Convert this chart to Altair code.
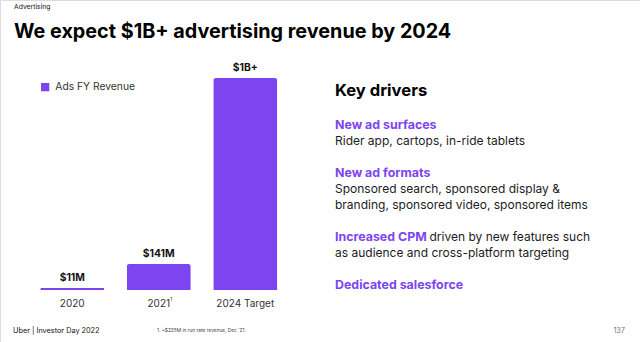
import altair as alt
import pandas as pd

# ---------------- data ----------------
categories = ["2020", "2021", "2024 Target"]
revenue = [11, 141, 1150]          # $M (2024 bar height, labelled "$1B+")
value_labels = ["$11M", "$141M", "$1B+"]
series_name = "Ads FY Revenue"

section_label = "Advertising"
title_text = "We expect $1B+ advertising revenue by 2024"
drivers_heading = "Key drivers"
driver_heads = ["New ad surfaces", "New ad formats", "Increased CPM", "Dedicated salesforce"]
driver_bodies = [
    ["Rider app, cartops, in-ride tablets"],
    ["Sponsored search, sponsored display &", "branding, sponsored video, sponsored items"],
    ["driven by new features such", "as audience and cross-platform targeting"],
    [],
]
footer_left = "Uber  |  Investor Day 2022"
footnote = "1. ~$225M in run rate revenue, Dec '21."
page_number = "137"

FONT = "Inter"
PURPLE = "#7C45F0"
DARK = "#1c1c1c"

df = pd.DataFrame({
    "year": categories,
    "revenue": revenue,
    "label": value_labels,
    "series": [series_name] * len(categories),
})
dummy = pd.DataFrame({"d": [0]})

base = alt.Chart(df)
xenc = alt.X("year:N", sort=categories,
             scale=alt.Scale(range=[29, 288.5], paddingInner=0.26, paddingOuter=0.13),
             axis=None)
yenc = alt.Y("revenue:Q", scale=alt.Scale(domain=[0, 1150], range=[290, 78], nice=False),
             axis=None)

bars = base.mark_bar(cornerRadiusTopLeft=2.5, cornerRadiusTopRight=2.5).encode(
    x=xenc, y=yenc,
    color=alt.Color("series:N", scale=alt.Scale(range=[PURPLE]),
                    legend=alt.Legend(orient="none", legendX=40, legendY=82, title=None,
                                      symbolType="square", symbolSize=68,
                                      symbolStrokeWidth=0, labelFontSize=10.3,
                                      labelColor="#333", labelFont=FONT, padding=0,
                                      labelOffset=5)),
)

vlabels = base.mark_text(fontWeight="bold", fontSize=10.3, dy=-7, baseline="alphabetic",
                         color="#111", font=FONT).encode(x=xenc, y=yenc, text="label:N")

xlabels = base.mark_text(fontSize=10, baseline="alphabetic", color="#333", font=FONT).encode(
    x=xenc, y=alt.value(307), text="year:N")

sup = base.transform_filter(alt.datum.year == "2021").mark_text(
    text="1", fontSize=5, baseline="alphabetic", color="#333", dx=12.5, font=FONT
).encode(x=xenc, y=alt.value(301))


def txt(s, x, y, size, weight="normal", color=DARK, align="left"):
    return alt.Chart(dummy).mark_text(
        text=s, align=align, baseline="alphabetic", fontSize=size,
        fontWeight=weight, color=color, font=FONT
    ).encode(x=alt.value(x), y=alt.value(y))


layers = [bars, vlabels, xlabels, sup]

layers.append(txt(section_label, 14, 9, 6.8, color="#111"))
layers.append(txt(title_text, 14, 38, 19.8, weight="bold", color="#000"))

layers.append(txt(drivers_heading, 335, 96, 16.6, weight="bold", color="#000"))

head_y = [128.5, 177, 241, 289]
for i, h in enumerate(driver_heads):
    layers.append(txt(h, 335, head_y[i], 12.4, weight="bold", color=PURPLE))
body_pos = [
    [(335, 144.5)],
    [(335, 193), (335, 209)],
    [(429.5, 241), (335, 257)],
    [],
]
for lines, pos in zip(driver_bodies, body_pos):
    for s, (x, y) in zip(lines, pos):
        layers.append(txt(s, x, y, 12))

layers.append(txt(footer_left, 13, 333, 7.3, color="#111"))
layers.append(txt(footnote, 157, 332, 4.8, color="#444"))
layers.append(txt(page_number, 625, 333, 7.3, color="#777", align="right"))

chart = alt.layer(*layers).properties(
    width=640, height=342, autosize=alt.AutoSizeParams(type="none"), padding=0
).configure_view(stroke=None).configure(font=FONT, background="white")

chart.save("out.html", embed_options={"renderer": "svg", "actions": False})
